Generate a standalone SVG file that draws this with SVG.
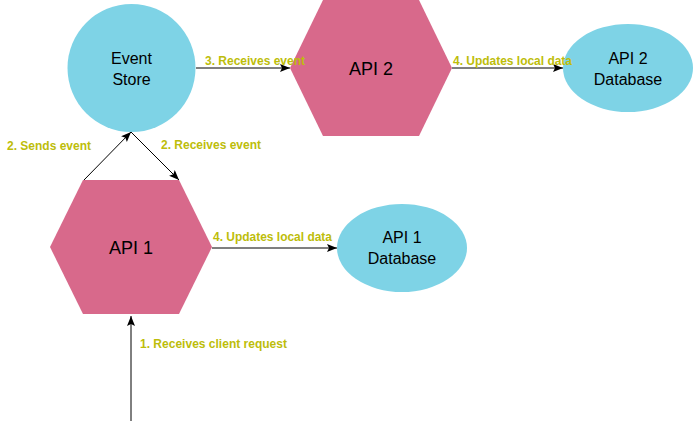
<svg xmlns="http://www.w3.org/2000/svg" width="694" height="421" viewBox="0 0 694 421">
<style>
.hex{fill:#D8698B;stroke:none}
.db{fill:#7ED3E6;stroke:none}
.nl{font-family:"Liberation Sans",Arial,sans-serif;fill:#000;text-anchor:middle}
.big{font-size:18px}
.sm{font-size:16px}
.el{font-family:"Liberation Sans",Arial,sans-serif;font-size:12px;font-weight:bold;fill:#BDBD0A}
.c{stroke:#000;stroke-width:1;fill:none;marker-end:url(#ah)}
</style>
<defs>
<marker id="ah" viewBox="0 0 10 10" refX="10" refY="5" markerWidth="10" markerHeight="10" markerUnits="userSpaceOnUse" orient="auto">
<path d="M0,1 L10,5 L0,9 L2,5 Z" fill="#000"/>
</marker>
</defs>
<g id="event-store">
<circle class="db" cx="131.5" cy="68" r="64"/>
<text class="nl sm" x="131.5" y="64">Event</text>
<text class="nl sm" x="131.5" y="85">Store</text>
</g>
<g id="api2">
<polygon class="hex" points="323,0 419,0 452,68 419,136 323,136 290,68"/>
<text class="nl big" x="371" y="75">API 2</text>
</g>
<g id="api2-db">
<ellipse class="db" cx="628" cy="68" rx="65" ry="44"/>
<text class="nl sm" x="628" y="64">API 2</text>
<text class="nl sm" x="628" y="85">Database</text>
</g>
<g id="api1">
<polygon class="hex" points="83,180 179,180 212,247 179,314 83,314 50,247"/>
<text class="nl big" x="131" y="254">API 1</text>
</g>
<g id="api1-db">
<ellipse class="db" cx="402" cy="248" rx="65" ry="44"/>
<text class="nl sm" x="402" y="243">API 1</text>
<text class="nl sm" x="402" y="264">Database</text>
</g>
<g id="connectors">
<line class="c" x1="196" y1="68" x2="290" y2="68"/>
<line class="c" x1="452" y1="68" x2="563" y2="68"/>
<line class="c" x1="212" y1="248" x2="337" y2="248"/>
<line class="c" x1="84" y1="180" x2="131" y2="132"/>
<line class="c" x1="131" y1="132" x2="179" y2="180"/>
<line class="c" x1="131" y1="421" x2="131" y2="316"/>
<text class="el" x="205" y="65" textLength="100" lengthAdjust="spacingAndGlyphs">3. Receives event</text>
<text class="el" x="453" y="65" textLength="119" lengthAdjust="spacingAndGlyphs">4. Updates local data</text>
<text class="el" x="7" y="150" textLength="84" lengthAdjust="spacingAndGlyphs">2. Sends event</text>
<text class="el" x="161" y="149" textLength="100" lengthAdjust="spacingAndGlyphs">2. Receives event</text>
<text class="el" x="213" y="241" textLength="119" lengthAdjust="spacingAndGlyphs">4. Updates local data</text>
<text class="el" x="140" y="348" textLength="147" lengthAdjust="spacingAndGlyphs">1. Receives client request</text>
</g>
</svg>
